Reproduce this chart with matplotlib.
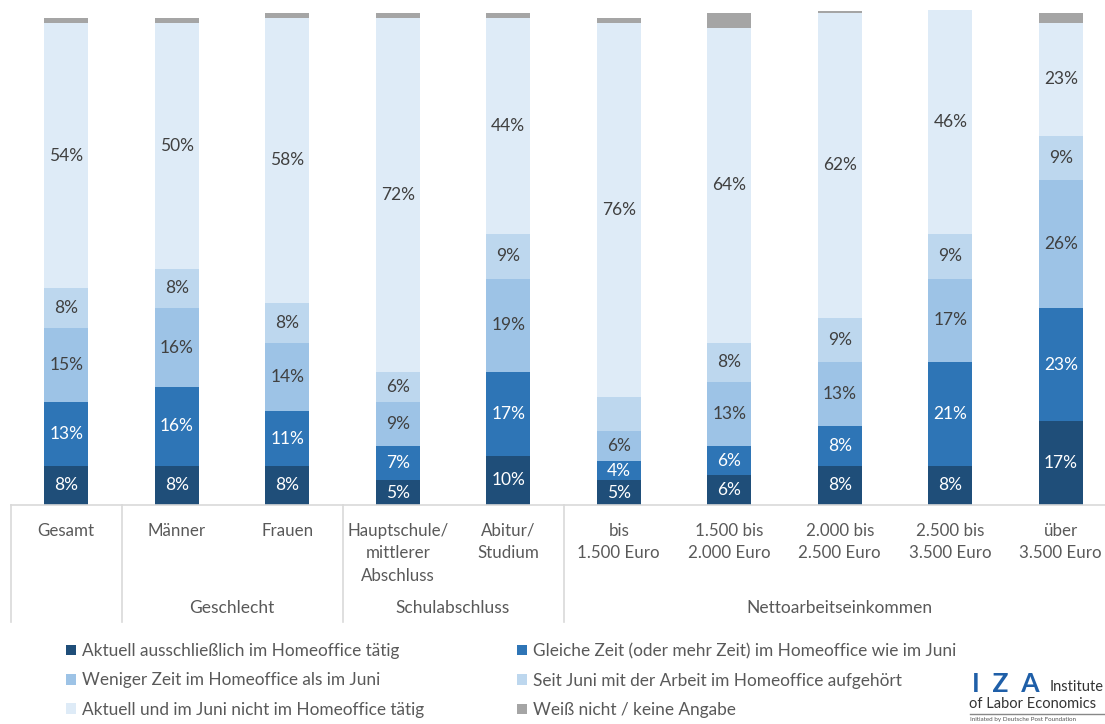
"""
Homeoffice stacked bars (IZA survey) -> out.png
"""

import matplotlib
matplotlib.use("Agg")
import matplotlib.pyplot as plt
from matplotlib.patches import Patch
from matplotlib.transforms import blended_transform_factory

# ---------------------------------------------------------------------------
CATEGORIES = ["Gesamt", "Männer", "Frauen", "Hauptschule/\nmittlerer\nAbschluss",
              "Abitur/\nStudium", "bis\n1.500 Euro", "1.500 bis\n2.000 Euro",
              "2.000 bis\n2.500 Euro", "2.500 bis\n3.500 Euro", "über\n3.500 Euro"]

GROUPS     = ["Geschlecht", "Schulabschluss", "Nettoarbeitseinkommen"]
GROUP_POS  = [1.5, 3.5, 7.0]
SEPARATORS = [-0.5, 0.5, 2.5, 4.5]

SERIES = ["Aktuell ausschließlich im Homeoffice tätig",
          "Gleiche Zeit (oder mehr Zeit) im Homeoffice wie im Juni",
          "Weniger Zeit im Homeoffice als im Juni",
          "Seit Juni mit der Arbeit im Homeoffice aufgehört",
          "Aktuell und im Juni nicht im Homeoffice tätig",
          "Weiß nicht / keine Angabe"]

ausschliesslich = [8, 8, 8, 5, 10, 5, 6, 8, 8, 17]
gleiche_zeit    = [13, 16, 11, 7, 17, 4, 6, 8, 21, 23]
weniger_zeit    = [15, 16, 14, 9, 19, 6, 13, 13, 17, 26]
aufgehoert      = [8, 8, 8, 6, 9, 7, 8, 9, 9, 9]
nicht_homeoff   = [54, 50, 58, 72, 44, 76, 64, 62, 45.6, 23]
weiss_nicht     = [1, 1, 1, 1, 1, 1, 3, 0.3, 0, 2]

VALUES = [ausschliesslich, gleiche_zeit, weniger_zeit, aufgehoert,
          nicht_homeoff, weiss_nicht]

# segments without a printed label: (series index, category index)
NO_LABEL = {(3, 5)}

COLORS      = ["#1F4E79", "#2E75B6", "#9DC3E6", "#BDD7EE", "#DEEBF7", "#A5A5A5"]
TEXT_COLORS = ["white", "white", "#404040", "#404040", "#404040", None]
GREY_TEXT   = "#595959"
FONT        = "Lato"

plt.rcParams["font.family"] = [FONT, "DejaVu Sans"]

fig = plt.figure(figsize=(11.05, 7.24), dpi=100)
ax = fig.add_axes([11 / 1105, (724 - 505) / 724, (1105 - 11) / 1105, 502 / 724])

x = list(range(len(CATEGORIES)))
bottom = [0.0] * len(CATEGORIES)
for s, vals in enumerate(VALUES):
    ax.bar(x, vals, width=0.4, bottom=bottom, color=COLORS[s],
           linewidth=0, label=SERIES[s])
    if TEXT_COLORS[s] is not None:
        for i, (b, v) in enumerate(zip(bottom, vals)):
            if (s, i) in NO_LABEL:
                continue
            ax.text(i, b + v / 2, f"{v:.0f}%", ha="center", va="center",
                    fontsize=12.5, color=TEXT_COLORS[s])
    bottom = [b + v for b, v in zip(bottom, vals)]

ax.set_xlim(-0.5, 9.4)
ax.set_ylim(0, 102)
ax.set_xticks([])
ax.set_yticks([])
for side in ("top", "right", "left"):
    ax.spines[side].set_visible(False)
ax.spines["bottom"].set_color("#D9D9D9")
ax.spines["bottom"].set_linewidth(1.2)

# hierarchical category axis
trans = blended_transform_factory(ax.transData, ax.transAxes)
px = 1 / 502
for sx in SEPARATORS:
    ax.plot([sx, sx], [0, -(622 - 505) * px], transform=trans,
            color="#D9D9D9", linewidth=1.2, clip_on=False)

for i, lab in enumerate(CATEGORIES):
    ax.text(i, -(523 - 505) * px, lab, transform=trans, ha="center", va="top",
            fontsize=12.2, color=GREY_TEXT, linespacing=1.5)

for g, gx in zip(GROUPS, GROUP_POS):
    ax.text(gx, -(608 - 505) * px, g, transform=trans, ha="center",
            va="center", fontsize=12.5, color=GREY_TEXT)

# legend, two columns
handles = [Patch(facecolor=c, edgecolor="none") for c in COLORS]
for col, x0 in enumerate([66 / 1105, 517 / 1105]):
    idx = [col, col + 2, col + 4]
    leg = fig.legend([handles[k] for k in idx], [SERIES[k] for k in idx],
                     loc="upper left", bbox_to_anchor=(x0, 1 - 643 / 724),
                     frameon=False, fontsize=12.4, handlelength=0.58,
                     handleheight=0.58, handletextpad=0.35, labelspacing=0.78,
                     borderpad=0, borderaxespad=0)
    for t in leg.get_texts():
        t.set_color(GREY_TEXT)

# IZA logo
fig.text(972 / 1105, 1 - 684 / 724, "I  Z  A", fontsize=19, fontweight="bold",
         color="#1F5FA8", va="center", ha="left")
fig.text(1050 / 1105, 1 - 687 / 724, "Institute", fontsize=10.5, color="#333333",
         va="center", ha="left")
fig.text(969 / 1105, 1 - 704 / 724, "of Labor Economics", fontsize=10.5,
         color="#333333", va="center", ha="left")
fig.add_artist(plt.Line2D([970 / 1105, 1.0], [1 - 714 / 724] * 2,
                          color="#888888", linewidth=1))
fig.text(970 / 1105, 1 - 720 / 724, "Initiated by Deutsche Post Foundation",
         fontsize=4.5, color="#555555", va="center", ha="left")

fig.savefig("out.png", dpi=100)
plt.close(fig)
